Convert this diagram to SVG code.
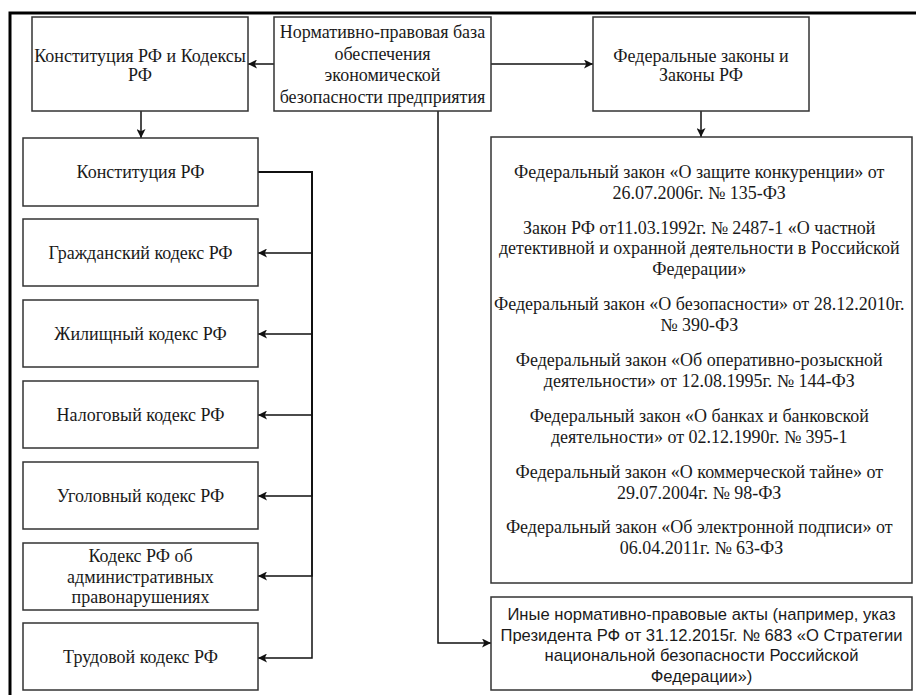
<svg xmlns="http://www.w3.org/2000/svg" width="916" height="695" viewBox="0 0 916 695">
<defs>
<marker id="ah" viewBox="0 0 10 10" refX="10" refY="5" markerWidth="9" markerHeight="9" markerUnits="userSpaceOnUse" orient="auto">
<path d="M0,0 L10,5 L0,10 L2.5,5 Z" fill="#111"/>
</marker>
</defs>
<style>
.box{fill:#fff;stroke:#333;stroke-width:1.5}
.t{font-family:'Liberation Serif','Times New Roman',serif;font-size:18px;fill:#1a1a1a;text-anchor:middle}
.s{font-family:'Liberation Sans',Arial,sans-serif;font-size:16.6px;fill:#1a1a1a;text-anchor:middle}
.c{fill:none;stroke:#111;stroke-width:1.5;marker-end:url(#ah)}
</style>
<rect width="916" height="695" fill="#fff"/>
<rect x="10" y="13" width="1000" height="1000" fill="none" stroke="#000" stroke-width="3"/>

<g id="connectors">
<path class="c" d="M274,64 H248"/>
<path class="c" d="M491,64 H593"/>
<path class="c" d="M141,111 V138"/>
<path class="c" d="M701,111 V137"/>
<path class="c" d="M438,111 V643 H491"/>
<path class="c" d="M258,172 H312 V253 H258"/>
<path class="c" d="M258,172 H312 V334 H258"/>
<path class="c" d="M258,172 H312 V415 H258"/>
<path class="c" d="M258,172 H312 V496 H258"/>
<path class="c" d="M258,172 H312 V576 H258"/>
<path class="c" d="M258,172 H312 V658 H258"/>
</g>

<g id="root">
<rect class="box" x="274" y="17" width="217" height="94"/>
<text class="t"><tspan x="382.5" y="38">Нормативно-правовая база</tspan><tspan x="382.5" y="59.5">обеспечения</tspan><tspan x="382.5" y="81">экономической</tspan><tspan x="382.5" y="102.5">безопасности предприятия</tspan></text>
</g>

<g id="konst-kodeksy">
<rect class="box" x="32" y="17" width="216" height="94"/>
<text class="t"><tspan x="140" y="62">Конституция РФ и Кодексы</tspan><tspan x="140" y="81">РФ</tspan></text>
</g>

<g id="fed-zakony">
<rect class="box" x="593" y="17" width="216" height="94"/>
<text class="t"><tspan x="701" y="62">Федеральные законы и</tspan><tspan x="701" y="81">Законы РФ</tspan></text>
</g>

<g id="konstitucia">
<rect class="box" x="23" y="138" width="235" height="68"/>
<text class="t" x="140.5" y="178">Конституция РФ</text>
</g>
<g id="grazhd">
<rect class="box" x="23" y="219" width="235" height="67"/>
<text class="t" x="140.5" y="259">Гражданский кодекс РФ</text>
</g>
<g id="zhil">
<rect class="box" x="23" y="300" width="235" height="67"/>
<text class="t" x="140.5" y="340">Жилищный кодекс РФ</text>
</g>
<g id="nalog">
<rect class="box" x="23" y="381" width="235" height="67"/>
<text class="t" x="140.5" y="421">Налоговый кодекс РФ</text>
</g>
<g id="ugol">
<rect class="box" x="23" y="462" width="235" height="67"/>
<text class="t" x="140.5" y="502">Уголовный кодекс РФ</text>
</g>
<g id="koap">
<rect class="box" x="23" y="543" width="235" height="67"/>
<text class="t"><tspan x="140.5" y="562">Кодекс РФ об</tspan><tspan x="140.5" y="582.5">административных</tspan><tspan x="140.5" y="603">правонарушениях</tspan></text>
</g>
<g id="trud">
<rect class="box" x="23" y="623" width="235" height="67"/>
<text class="t" x="140.5" y="663">Трудовой кодекс РФ</text>
</g>

<g id="fz-list">
<rect class="box" x="491" y="137" width="421" height="446"/>
<text class="t">
<tspan x="701.5" y="178">Федеральный закон «О защите конкуренции» от</tspan>
<tspan x="701.5" y="198.5">26.07.2006г. № 135-ФЗ</tspan>
<tspan x="701.5" y="233.5">Закон РФ от11.03.1992г. № 2487-1 «О частной</tspan>
<tspan x="701.5" y="254">детективной и охранной деятельности в Российской</tspan>
<tspan x="701.5" y="274.5">Федерации»</tspan>
<tspan x="701.5" y="310">Федеральный закон «О безопасности» от 28.12.2010г.</tspan>
<tspan x="701.5" y="330.5">№ 390-ФЗ</tspan>
<tspan x="701.5" y="366">Федеральный закон «Об оперативно-розыскной</tspan>
<tspan x="701.5" y="386.5">деятельности» от 12.08.1995г. № 144-ФЗ</tspan>
<tspan x="701.5" y="422">Федеральный закон «О банках и банковской</tspan>
<tspan x="701.5" y="442.5">деятельности» от 02.12.1990г. № 395-1</tspan>
<tspan x="701.5" y="478">Федеральный закон «О коммерческой тайне» от</tspan>
<tspan x="701.5" y="498.5">29.07.2004г. № 98-ФЗ</tspan>
<tspan x="701.5" y="533">Федеральный закон «Об электронной подписи» от</tspan>
<tspan x="701.5" y="553.5">06.04.2011г. № 63-ФЗ</tspan>
</text>
</g>

<g id="inye">
<rect class="box" x="491" y="597" width="421" height="93"/>
<text class="s"><tspan x="701.5" y="620">Иные нормативно-правовые акты (например, указ</tspan><tspan x="701.5" y="640.5">Президента РФ от 31.12.2015г. № 683 «О Стратегии</tspan><tspan x="701.5" y="661">национальной безопасности Российской</tspan><tspan x="701.5" y="681.5">Федерации»)</tspan></text>
</g>
</svg>
